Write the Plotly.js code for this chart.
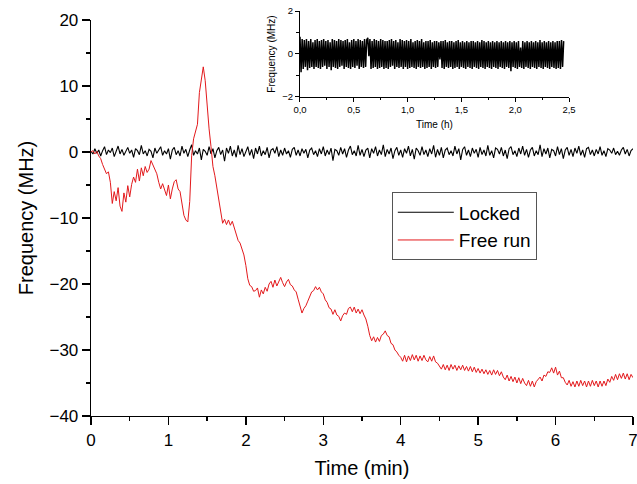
<!DOCTYPE html>
<html>
<head>
<meta charset="utf-8">
<script src="https://cdn.plot.ly/plotly-3.0.1.min.js"></script>
<style>html,body{margin:0;padding:0;background:#fff}#chart{width:637px;height:484px}</style>
</head>
<body>
<div id="chart"></div>
<script>
// ---- data ----
const timeStepMin = 0.025;   // main chart sample spacing (min)
const freeRun = [
0,0.2,-0.3,0.1,-0.6,-1.0,-1.9,-2.6,-3.3,-3.0,
-4.6,-7.8,-6.0,-7.4,-5.4,-8.2,-9.0,-6.2,-7.6,-5.1,
-6.8,-4.9,-3.8,-4.6,-2.6,-4.4,-2.4,-3.6,-2.2,-3.1,
-2.6,-1.3,-2.0,-2.6,-3.3,-4.6,-5.6,-4.8,-5.9,-6.6,
-5.0,-7.1,-5.6,-4.5,-4.2,-5.6,-6.0,-7.9,-9.6,-10.3,
-10.6,-7.5,-0.5,2.0,3.2,4.2,9.0,11.2,12.9,10.8,
6.5,3.5,0.8,-2.2,-3.6,-5.4,-7.8,-9.6,-10.8,-10.2,
-11.0,-10.3,-11.1,-10.5,-11.6,-12.4,-13.4,-13.8,-14.8,-15.6,
-17.2,-19.2,-20.2,-20.4,-21.1,-21.0,-20.6,-22.0,-20.9,-21.5,
-20.5,-21.1,-20.0,-19.6,-20.5,-19.4,-20.3,-19.6,-19.0,-19.8,
-20.4,-19.7,-19.3,-20.1,-20.3,-20.9,-21.2,-22.3,-23.5,-24.4,
-23.7,-23.3,-22.6,-22.0,-21.2,-21.0,-20.4,-20.9,-20.5,-21.2,
-21.5,-22.4,-22.8,-23.6,-23.8,-24.6,-23.9,-24.7,-24.9,-25.6,
-24.8,-24.4,-24.6,-23.7,-23.5,-24.2,-23.5,-24.4,-23.8,-24.5,
-23.9,-24.7,-25.3,-26.4,-27.8,-28.6,-28.0,-28.8,-28.1,-28.7,
-27.8,-27.6,-27.1,-27.8,-28.0,-29.0,-29.2,-30.0,-30.3,-30.8,
-31.1,-31.7,-30.8,-31.8,-30.9,-31.6,-30.7,-31.5,-30.8,-31.7,
-30.9,-31.6,-30.8,-31.5,-31.8,-31.0,-31.7,-30.9,-31.8,-32.0,
-32.4,-32.9,-32.2,-33.0,-32.3,-33.1,-32.2,-32.9,-32.3,-33.1,
-32.4,-33.0,-32.3,-33.1,-32.5,-33.2,-32.5,-33.3,-32.6,-33.4,
-32.8,-33.5,-32.9,-33.6,-33.0,-33.7,-33.1,-33.8,-33.0,-33.7,
-33.1,-33.9,-33.3,-34.1,-34.5,-33.8,-34.7,-34.0,-34.8,-34.1,
-35.0,-34.2,-35.1,-34.3,-35.0,-35.4,-34.6,-35.5,-34.7,-35.6,
-34.8,-34.4,-34.1,-34.7,-33.8,-34.0,-33.3,-33.4,-32.7,-33.5,
-32.6,-33.8,-33.2,-34.2,-34.2,-34.9,-35.3,-34.6,-35.5,-34.8,
-35.6,-34.7,-35.5,-34.6,-35.4,-34.7,-35.6,-34.7,-35.5,-34.6,
-35.4,-34.7,-35.6,-34.7,-35.5,-34.7,-35.4,-34.4,-34.9,-34.0,
-34.6,-33.7,-34.5,-33.6,-34.3,-33.5,-34.4,-33.6,-34.5,-33.7,
-34.2
];
const locked = [
0.1,-0.3,0.5,-0.2,0.3,-0.6,0.2,0.8,-0.4,0.3,-0.1,0.6,-0.7,0.2,0.9,-0.3,0.4,-0.5,0.1,0.7,
-0.2,0.3,-0.8,0.5,0.2,-0.4,1.0,-0.3,0.2,-0.6,0.4,0.1,-0.9,0.6,-0.2,0.3,0.8,-0.5,0.2,-0.3,
0.5,-1.1,0.3,0.7,-0.4,0.2,-0.6,0.9,-0.2,0.4,-0.7,0.3,1.1,-0.5,0.2,-0.3,0.6,-1.2,0.4,0.1,
-0.5,0.8,-0.3,0.5,-0.9,0.2,0.7,-0.4,0.3,-1.4,0.6,-0.2,0.9,-0.6,0.3,-0.8,1.0,-0.4,0.5,-0.7,
0.2,0.8,-0.5,0.4,-1.0,0.6,-0.3,0.9,-0.6,0.2,-0.4,0.7,-0.9,0.3,0.5,-0.2,0.8,-0.7,0.3,-0.5,
0.6,-0.3,0.2,-0.8,0.4,0.7,-0.5,0.3,-0.6,0.5,-0.2,0.4,-0.9,0.3,0.6,-0.4,0.2,-0.7,0.5,-0.3,
0.8,-0.6,0.3,-0.4,0.6,-1.3,0.4,0.2,-0.5,0.7,-0.3,0.5,-0.8,0.3,0.9,-0.4,0.2,-0.6,1.0,-0.5,
0.4,-0.7,0.3,0.6,-0.9,0.5,-0.2,0.8,-0.6,0.3,-0.4,1.1,-0.7,0.4,-0.3,0.6,-1.0,0.2,0.7,-0.5,
0.3,-0.8,0.5,-0.2,0.9,-0.6,0.4,-1.1,0.6,0.2,-0.5,0.8,-0.4,0.3,-0.7,0.5,-0.3,1.0,-0.8,0.4,
-0.5,0.7,-0.9,0.3,0.6,-0.4,0.2,-0.6,0.9,-0.3,0.5,-1.2,0.4,0.8,-0.5,0.3,-0.7,0.6,-0.2,0.4,
-0.8,0.7,-0.4,0.3,-0.6,1.0,-0.5,0.2,-0.9,0.6,0.4,-0.3,0.7,-0.6,0.3,-1.0,0.5,0.8,-0.4,0.2,
-0.7,0.6,-0.3,0.9,-0.5,0.4,-0.8,0.3,0.7,-0.6,0.2,-0.4,1.1,-0.7,0.5,-0.3,0.6,-0.9,0.4,0.2,
-0.6,0.8,-0.4,0.5,-1.0,0.3,0.7,-0.5,0.4,-0.7,0.6,-0.2,0.9,-0.5,0.3,-0.8,0.5,0.7,-0.4,0.3,
-0.6,0.4,-0.3,0.8,-0.5,0.2,-0.7,0.5,0.3,-0.2,0.6,-0.4,0.1,-0.5,0.3,0.7,-0.3,0.4,-0.6,0.2,
0.5
];
const insetStepH = 0.01;     // inset sample spacing (h)
const insetLocked = [
0.8,-0.85,0.7,-0.7,0.65,-0.6,0.7,-0.75,0.6,-0.65,0.7,-0.6,0.55,-0.7,0.65,-0.6,0.7,-0.65,0.6,-0.7,
0.65,-0.6,0.7,-0.55,0.6,-0.7,0.65,-0.6,0.55,-0.75,0.7,-0.6,0.65,-0.65,0.6,-0.7,0.7,-0.6,0.65,-0.55,
0.6,-0.7,0.65,-0.6,0.7,-0.65,0.55,-0.7,0.65,-0.6,0.7,-0.65,0.6,-0.55,0.7,-0.7,0.65,-0.6,0.6,-0.65,
0.7,-0.6,0.65,0.75,-0.1,0.7,-0.7,0.6,-0.65,0.7,-0.6,0.65,-0.7,0.6,-0.65,0.7,-0.6,0.65,-0.7,0.6,
-0.65,0.6,-0.7,0.65,-0.6,0.7,-0.55,0.6,-0.7,0.65,-0.6,0.55,-0.65,0.7,-0.6,0.65,-0.7,0.6,-0.6,0.65,
-0.7,0.6,-0.65,0.7,-0.6,0.55,-0.65,0.6,-0.7,0.65,-0.6,0.6,-0.65,0.7,-0.6,0.55,-0.7,0.6,-0.65,0.6,
-0.6,0.65,-0.7,0.55,-0.6,0.6,-0.65,0.6,-0.6,0.55,-0.25,0.6,-0.65,0.6,-0.7,0.65,-0.6,0.55,-0.65,0.6,
-0.6,0.6,-0.7,0.55,-0.65,0.6,-0.6,0.65,-0.7,0.55,-0.6,0.6,-0.65,0.55,-0.7,0.6,-0.6,0.55,-0.65,0.6,
-0.7,0.6,-0.6,0.55,-0.65,0.6,-0.7,0.55,-0.6,0.65,-0.65,0.6,-0.7,0.55,-0.6,0.6,-0.65,0.55,-0.7,0.6,
-0.6,0.55,-0.65,0.6,-0.7,0.55,-0.6,0.6,-0.65,0.55,-0.7,0.6,-0.6,0.55,-0.65,0.6,-0.8,0.55,-0.6,0.6,
-0.65,0.55,-0.7,0.6,-0.6,0.3,-0.65,0.6,-0.7,0.55,-0.6,0.6,-0.65,0.55,-0.7,0.6,-0.6,0.55,-0.65,0.6,
-0.7,0.55,-0.6,0.65,-0.65,0.55,-0.7,0.6,-0.6,0.55,-0.65,0.6,-0.7,0.55,-0.6,0.6,-0.65,0.55,-0.7,0.6,
-0.65,0.6,-0.7,0.65,-0.6,0.6
];
const seriesNames = ["Locked", "Free run"];
const mainXTitle = "Time (min)";
const mainYTitle = "Frequency (MHz)";
const insetXTitle = "Time (h)";
const insetYTitle = "Frequency (MHz)";

// ---- build ----
const tMain = locked.map((_, i) => +(i * timeStepMin).toFixed(4));
const tFree = freeRun.map((_, i) => +(i * timeStepMin).toFixed(4));
const tInset = insetLocked.map((_, i) => +(i * insetStepH).toFixed(4));

const FONT = "Arial, 'Liberation Sans', sans-serif";

const traces = [
  {x: tMain, y: locked, name: seriesNames[0], type: "scatter", mode: "lines",
   line: {color: "#000000", width: 1.1}, xaxis: "x", yaxis: "y"},
  {x: tFree, y: freeRun, name: seriesNames[1], type: "scatter", mode: "lines",
   line: {color: "#e3191c", width: 1}, xaxis: "x", yaxis: "y"},
  {x: tInset, y: insetLocked, name: "inset", showlegend: false, type: "scatter", mode: "lines",
   line: {color: "#000000", width: 1.5}, xaxis: "x2", yaxis: "y2"}
];

const axisCommon = {
  showline: true, linecolor: "#000", linewidth: 1.3, mirror: false,
  showgrid: false, zeroline: false, ticks: "outside", tickcolor: "#000",
  tickwidth: 1.3
};

const layout = {
  width: 637, height: 484,
  margin: {l: 91, r: 4, t: 8, b: 68},
  paper_bgcolor: "#fff", plot_bgcolor: "rgba(0,0,0,0)",
  font: {family: FONT, color: "#000"},
  separators: ",.",
  showlegend: true,
  legend: {
    x: 0.555, y: 0.548, xanchor: "left", yanchor: "top",
    bordercolor: "#555", borderwidth: 1, bgcolor: "#fff",
    font: {family: FONT, size: 19, color: "#000"},
    tracegroupgap: 0, itemwidth: 56
  },
  xaxis: Object.assign({}, axisCommon, {
    domain: [0, 1], range: [0, 7], dtick: 1, tick0: 0, ticklen: 8,
    tickfont: {size: 17, family: FONT}, ticklabeloverflow: "allow",
    minor: {dtick: 0.5, ticks: "outside", ticklen: 4, tickcolor: "#000", tickwidth: 1.3},
    title: {text: mainXTitle, font: {size: 20, family: FONT}, standoff: 12},
    anchor: "y"
  }),
  yaxis: Object.assign({}, axisCommon, {
    domain: [0, 0.9706], range: [-40, 20], dtick: 10, tick0: 0, ticklen: 8,
    tickfont: {size: 17, family: FONT},
    minor: {dtick: 5, ticks: "outside", ticklen: 4, tickcolor: "#000", tickwidth: 1.3},
    title: {text: mainYTitle, font: {size: 20, family: FONT}, standoff: 10},
    anchor: "x"
  }),
  xaxis2: Object.assign({}, axisCommon, {
    domain: [0.3856, 0.882], range: [0, 2.5], dtick: 0.5, tick0: 0, ticklen: 4,
    linewidth: 1, tickwidth: 1, tickformat: ".1f",
    tickfont: {size: 9.5, family: FONT},
    minor: {dtick: 0.25, ticks: "outside", ticklen: 2.5, tickcolor: "#000", tickwidth: 1},
    title: {text: insetXTitle, font: {size: 10, family: FONT}, standoff: 6},
    anchor: "y2"
  }),
  yaxis2: Object.assign({}, axisCommon, {
    domain: [0.7819, 0.9926], range: [-2, 2], dtick: 2, tick0: 0, ticklen: 4,
    linewidth: 1, tickwidth: 1,
    tickfont: {size: 9.5, family: FONT},
    minor: {dtick: 1, ticks: "outside", ticklen: 2.5, tickcolor: "#000", tickwidth: 1},
    title: {text: insetYTitle, font: {size: 10, family: FONT}, standoff: 4},
    anchor: "x2"
  })
};

Plotly.newPlot("chart", traces, layout, {displayModeBar: false, staticPlot: true});
</script>
</body>
</html>
